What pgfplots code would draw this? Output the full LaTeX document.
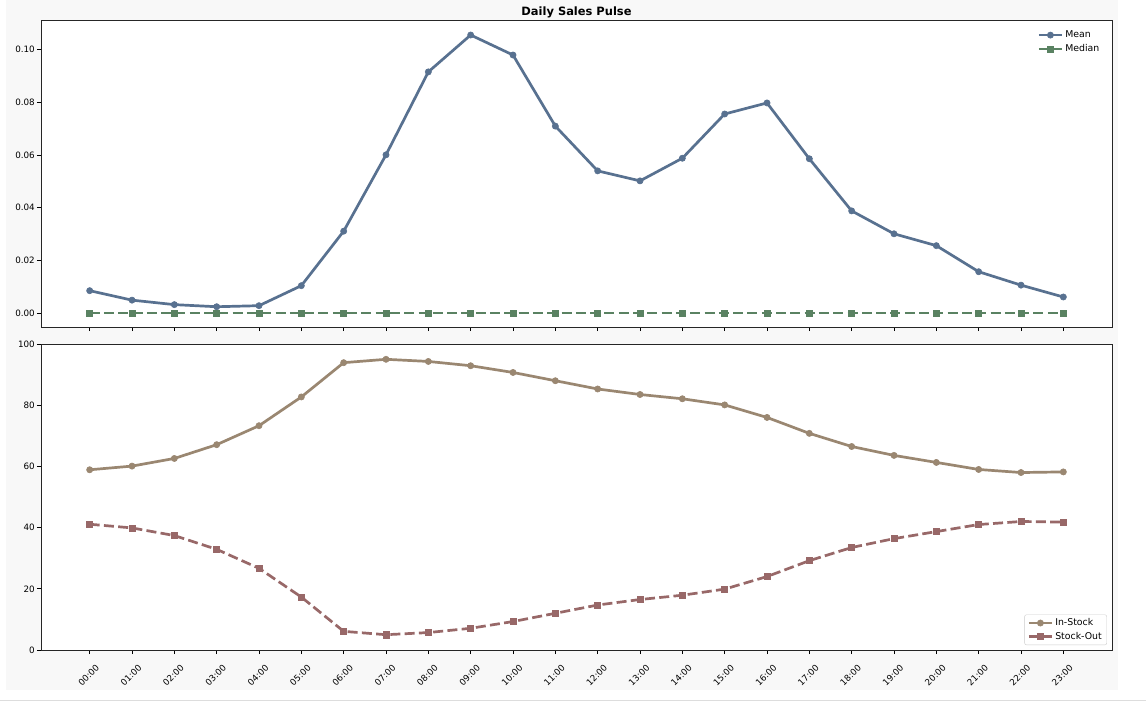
\documentclass[border=0pt]{standalone}
\usepackage{fontspec}
\setmainfont{DejaVu Sans}
\usepackage{pgfplots}
\pgfplotsset{compat=1.18}
\definecolor{cmean}{HTML}{587190}
\definecolor{cmedian}{HTML}{5A8262}
\definecolor{cin}{HTML}{9A8771}
\definecolor{cout}{HTML}{986868}
\definecolor{figbg}{HTML}{F8F8F8}
\definecolor{sepline}{HTML}{DDDDDD}
\begin{document}
\begin{tikzpicture}
\useasboundingbox (0bp,0bp) rectangle (1146bp,-704bp);
\fill[figbg] (6bp,0bp) rectangle (1118bp,-690bp);
\draw[sepline, line width=1bp] (0bp,-700.5bp) -- (1146bp,-700.5bp);
\node[font=\bfseries\fontsize{11.5}{13}\selectfont, anchor=base, inner sep=0pt] at (576.5bp,-15bp) {Daily Sales Pulse};
\pgfplotsset{
  common/.style={
    scale only axis, width=1071bp,
    xmin=-1.15, xmax=24.15,
    xtick={0,...,23},
    tick align=outside, xtick pos=bottom, ytick pos=left,
    major tick length=4bp,
    every tick/.style={black, line width=0.8bp},
    axis line style={black!85, line width=0.8bp},
    axis background/.style={fill=white},
    tick label style={font=\fontsize{8.8}{10}\selectfont},
    /pgf/number format/assume math mode=true,
    yticklabel style={anchor=east, inner sep=0pt, xshift=-2bp},
    legend cell align=left,
    legend image code/.code={\draw[mark repeat=2,mark phase=2,##1] plot coordinates {(0bp,0bp)(11.5bp,0bp)(23bp,0bp)};},
  },
}
\begin{axis}[common, at={(41bp,-20bp)}, anchor=north west, height=307bp,
  ymin=-0.0053, ymax=0.1113,
  ytick={0,0.02,0.04,0.06,0.08,0.1},
  scaled y ticks=false,
  yticklabel style={/pgf/number format/.cd, fixed, fixed zerofill, precision=2},
  xticklabels={},
  legend style={draw=none, fill=none, at={(0.993,0.978)}, anchor=north east,
    font=\fontsize{9.4}{11}\selectfont, nodes={font=\fontsize{9.4}{11}\selectfont}, row sep=1.5bp},
]
\addplot[cmean, line width=2.7bp, mark=*, mark size=3.1bp, mark options={fill=cmean, draw=cmean, line width=0.6bp}]
coordinates {(0,0.0085)(1,0.0049)(2,0.0032)(3,0.0024)(4,0.0028)(5,0.0104)(6,0.0311)(7,0.0601)(8,0.0916)(9,0.1056)(10,0.0980)(11,0.0710)(12,0.0540)(13,0.0502)(14,0.0588)(15,0.0756)(16,0.0798)(17,0.0586)(18,0.0388)(19,0.0301)(20,0.0256)(21,0.0157)(22,0.0106)(23,0.0061)};
\addlegendentry{Mean}
\addplot[cmedian, line width=2.7bp, dash pattern=on 10bp off 4.3bp, mark=square*, mark size=3.1bp, mark options={solid, fill=cmedian, draw=cmedian, line width=0.6bp}]
coordinates {(0,0)(1,0)(2,0)(3,0)(4,0)(5,0)(6,0)(7,0)(8,0)(9,0)(10,0)(11,0)(12,0)(13,0)(14,0)(15,0)(16,0)(17,0)(18,0)(19,0)(20,0)(21,0)(22,0)(23,0)};
\addlegendentry{Median}
\end{axis}
\begin{axis}[common, at={(41bp,-344bp)}, anchor=north west, height=306bp,
  ymin=0, ymax=100,
  ytick={0,20,40,60,80,100},
  xticklabels={00:00,01:00,02:00,03:00,04:00,05:00,06:00,07:00,08:00,09:00,10:00,11:00,12:00,13:00,14:00,15:00,16:00,17:00,18:00,19:00,20:00,21:00,22:00,23:00},
  xticklabel style={yshift=-21bp, xshift=-1bp, rotate=45, anchor=center},
  legend style={draw=black!20, fill=white, rounded corners=2bp, at={(0.9953,0.016)}, anchor=south east,
    font=\fontsize{9.4}{11}\selectfont, nodes={font=\fontsize{9.4}{11}\selectfont}, row sep=1bp},
]
\addplot[cin, line width=2.7bp, mark=*, mark size=3.1bp, mark options={fill=cin, draw=cin, line width=0.6bp}]
coordinates {(0,58.9)(1,60.1)(2,62.6)(3,67.1)(4,73.3)(5,82.7)(6,93.9)(7,95.0)(8,94.3)(9,92.9)(10,90.7)(11,88.0)(12,85.3)(13,83.5)(14,82.1)(15,80.1)(16,76.0)(17,70.8)(18,66.5)(19,63.6)(20,61.3)(21,59.0)(22,58.0)(23,58.2)};
\addlegendentry{In-Stock}
\addplot[cout, line width=2.7bp, dash pattern=on 10bp off 4.3bp, mark=square*, mark size=3.1bp, mark options={solid, fill=cout, draw=cout, line width=0.6bp}]
coordinates {(0,41.1)(1,39.9)(2,37.4)(3,32.9)(4,26.7)(5,17.3)(6,6.1)(7,5.0)(8,5.7)(9,7.1)(10,9.3)(11,12.0)(12,14.7)(13,16.5)(14,17.9)(15,19.9)(16,24.0)(17,29.2)(18,33.5)(19,36.4)(20,38.7)(21,41.0)(22,42.0)(23,41.8)};
\addlegendentry{Stock-Out}
\end{axis}
\end{tikzpicture}
\end{document}
